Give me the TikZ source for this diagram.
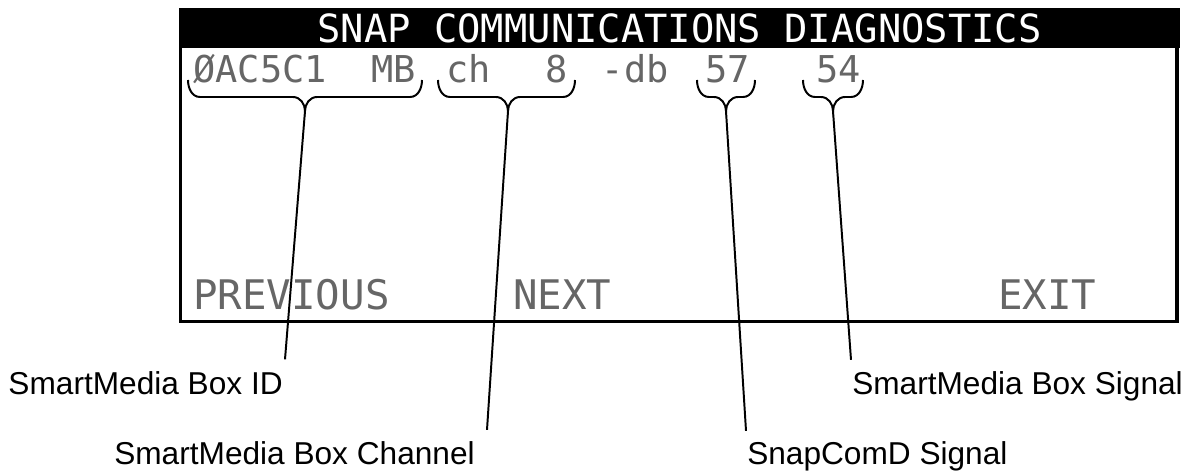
\documentclass[tikz,border=0pt]{standalone}
\usepackage{fontspec}
\setmainfont{Liberation Sans}
\newfontfamily\lcdfont{DejaVu Sans Mono}
\usepackage{tikz}

\begin{document}
\begin{tikzpicture}[
    lcdframe/.style={draw, line width=2.2pt},
    titlebar/.style={rectangle, fill=black, text=white, inner sep=0pt, minimum width=25.025cm, minimum height=1cm, font=\lcdfont\fontsize{27.6}{30}\selectfont},
    lcd/.style={inner sep=0pt, anchor=base west, text=black!60, font=\lcdfont\fontsize{26.3}{30}\selectfont},
    softkey/.style={lcd, font=\lcdfont\fontsize{29}{32}\selectfont},
    brc/.style={line width=1.4pt},
    leader/.style={line width=1.4pt},
    lbl/.style={inner sep=0pt, font=\fontsize{22.5}{26}\selectfont}
]
\useasboundingbox (0,0) rectangle (29.725,11.8);

% display
\draw[lcdframe] (4.5125,3.7625) rectangle (29.425,11.1);
\node[titlebar] (bar) at (16.9875,11.1) {SNAP COMMUNICATIONS DIAGNOSTICS};

% status line
\node[lcd] (boxid) at (4.825,9.725) {ØAC5C1\ \ MB};
\node[lcd] (chan) at (11.15,9.725) {ch};
\node[lcd] (chnum) at (13.625,9.725) {8};
\node[lcd, anchor=base east] (dbtag) at (16.725,9.725) {-db};
\node[lcd] (sigcom) at (17.625,9.725) {57};
\node[lcd] (sigbox) at (20.4,9.725) {54};

% soft keys
\node[softkey] (prev) at (4.825,4.05) {PREVIOUS};
\node[softkey] (next) at (12.825,4.05) {NEXT};
\node[softkey] (exit) at (24.95,4.05) {EXIT};

% braces
\draw[brc] (4.7,9.8) to[out=-90,in=180] (5.0,9.375) -- (7.325,9.375) to[out=0,in=90] (7.625,9.025)
    to[out=90,in=180] (7.925,9.375) -- (10.25,9.375) to[out=0,in=-90] (10.55,9.8);
\coordinate (tipid) at (7.625,9.025);
\draw[brc] (10.95,9.8) to[out=-90,in=180] (11.25,9.375) -- (12.4,9.375) to[out=0,in=90] (12.7,9.025)
    to[out=90,in=180] (13.0,9.375) -- (14.075,9.375) to[out=0,in=-90] (14.375,9.8);
\coordinate (tipchan) at (12.7,9.025);
\draw[brc] (17.425,9.8) to[out=-90,in=180] (17.725,9.375) -- (17.85,9.375) to[out=0,in=90] (18.15,9.025)
    to[out=90,in=180] (18.45,9.375) -- (18.575,9.375) to[out=0,in=-90] (18.875,9.8);
\coordinate (tipcom) at (18.15,9.025);
\draw[brc] (20.075,9.8) to[out=-90,in=180] (20.375,9.375) -- (20.525,9.375) to[out=0,in=90] (20.825,9.025)
    to[out=90,in=180] (21.125,9.375) -- (21.275,9.375) to[out=0,in=-90] (21.575,9.8);
\coordinate (tipsig) at (20.825,9.025);

% labels
\node[lbl, anchor=base east] (lblid) at (7.075,1.95) {SmartMedia Box ID};
\node[lbl, anchor=base east] (lblchan) at (11.875,0.2) {SmartMedia Box Channel};
\node[lbl, anchor=base west] (lblcom) at (18.675,0.2) {SnapComD Signal};
\node[lbl, anchor=base west] (lblsig) at (21.3,1.95) {SmartMedia Box Signal};

% leaders
\draw[leader] (tipid) -- ([shift={(0.05,0.285)}]lblid.north east);
\draw[leader] (tipchan) -- ([shift={(0.3,0.275)}]lblchan.north east);
\draw[leader] (tipcom) -- ([shift={(-0.025,0.25)}]lblcom.north west);
\draw[leader] (tipsig) -- ([shift={(-0.025,0.275)}]lblsig.north west);

\end{tikzpicture}
\end{document}
